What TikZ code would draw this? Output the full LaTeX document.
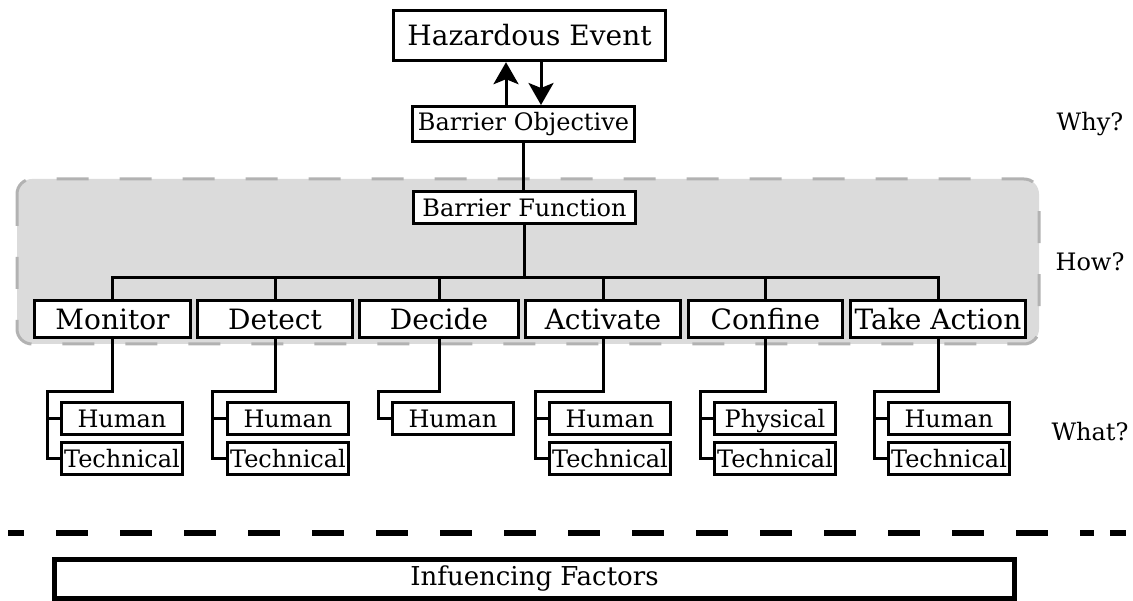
\documentclass[tikz,border=0pt]{standalone}
\usepackage{fontspec}
\setmainfont{DejaVu Serif}
\usetikzlibrary{arrows.meta}
\begin{document}
\begin{tikzpicture}[x=1pt,y=-1pt,
  box/.style={draw, fill=white, line width=3pt, inner sep=0pt},
  bigtext/.style={font=\fontsize{28}{32}\selectfont},
  smalltext/.style={font=\fontsize{24}{28}\selectfont},
  link/.style={line width=3pt},
  arr/.style={line width=3pt, -{Stealth[length=22pt,width=25pt,inset=5pt]}},
  topbox/.style={box, bigtext, minimum height=37pt},
  subbox/.style={box, smalltext, minimum width=121pt, minimum height=32pt,
                 text height=17.5pt, text depth=0pt},
  side/.style={smalltext, inner sep=0pt},
]
\useasboundingbox (0,0) rectangle (1133,601);

% shaded band around the function level
\draw[fill=black!14, draw=black!30, line width=3pt, rounded corners=15pt,
      dash pattern=on 32pt off 31pt]
  (17,179) rectangle (1039,344);

% top of the hierarchy
\node[box, bigtext, line width=3.4pt, minimum width=272pt, minimum height=50pt]
  (event) at (529.5,35.5) {Hazardous Event};
\node[box, smalltext, minimum width=222pt, minimum height=35pt]
  (objective) at (523.5,124) {Barrier Objective};
\node[box, smalltext, minimum width=222pt, minimum height=32pt]
  (function) at (524.5,207.5) {Barrier Function};

\coordinate (up) at (506,0);
\coordinate (down) at (541,0);
\draw[arr] (up |- objective.north) -- (up |- event.south);
\draw[arr] (down |- event.south) -- (down |- objective.north);
\draw[link] (objective.south) -- (objective.south |- function.north);

% function steps
\node[topbox, minimum width=156pt] (monitor)  at (112.5,319) {Monitor};
\node[topbox, minimum width=155pt] (detect)   at (275,319)   {Detect};
\node[topbox, minimum width=159pt] (decide)   at (439,319)   {Decide};
\node[topbox, minimum width=155pt] (activate) at (603,319)   {Activate};
\node[topbox, minimum width=154pt] (confine)  at (765.5,319) {Confine};
\node[topbox, minimum width=175pt] (action)   at (938,319)   {Take Action};

\coordinate (bus) at (524.5,278);
\draw[link] (function.south) -- (bus);
\foreach \s in {monitor,detect,decide,activate,confine,action}
  \draw[link] (\s.north) |- (bus);

% realisation of each step
\node[subbox] (monH) at (122,418.5) {Human};
\node[subbox] (monT) at (122,458.5) {Technical};
\node[subbox] (detH) at (288,418.5) {Human};
\node[subbox] (detT) at (288,458.5) {Technical};
\node[subbox] (decH) at (453,418.5) {Human};
\node[subbox] (actH) at (610,418.5) {Human};
\node[subbox] (actT) at (610,458.5) {Technical};
\node[subbox] (conP) at (775,418.5) {Physical};
\node[subbox] (conT) at (775,458.5) {Technical};
\node[subbox] (takH) at (949,418.5) {Human};
\node[subbox] (takT) at (949,458.5) {Technical};

\coordinate (monS) at (47,392);
\coordinate (detS) at (212,392);
\coordinate (decS) at (378,392);
\coordinate (actS) at (535,392);
\coordinate (conS) at (700,392);
\coordinate (takS) at (874,392);

\draw[link] (monitor.south) |- (monS) |- (monT.west);
\draw[link] (monS |- monH.west) -- (monH.west);
\draw[link] (detect.south) |- (detS) |- (detT.west);
\draw[link] (detS |- detH.west) -- (detH.west);
\draw[link] (decide.south) |- (decS) |- (decH.west);
\draw[link] (activate.south) |- (actS) |- (actT.west);
\draw[link] (actS |- actH.west) -- (actH.west);
\draw[link] (confine.south) |- (conS) |- (conT.west);
\draw[link] (conS |- conP.west) -- (conP.west);
\draw[link] (action.south) |- (takS) |- (takT.west);
\draw[link] (takS |- takH.west) -- (takH.west);

% level questions
\node[side] (why)  at (1090,124) {Why?};
\node[side] (how)  at (1090,262) {How?};
\node[side] (what) at (1090,432) {What?};

% separator and influencing factors
\draw[line width=6pt, dash pattern=on 32pt off 32pt, dash phase=16pt]
  (8,533) -- (1094,533);
\draw[line width=6pt] (1110,533) -- (1126,533);
\node[box, line width=5pt, font=\fontsize{26}{30}\selectfont,
      minimum width=960pt, minimum height=39pt]
  (factors) at (534.5,579) {Infuencing Factors};
\end{tikzpicture}
\end{document}
